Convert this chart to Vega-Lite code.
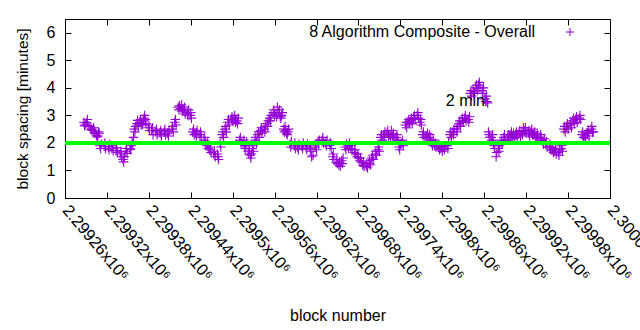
{
"$schema": "https://vega.github.io/schema/vega-lite/v6.json",
"autosize": {"type": "none"},
"padding": {"left": 65, "top": 19, "right": 30, "bottom": 132},
"width": 545,
"height": 179,
"datasets": {
"blocks": [
{"block":2299287,"spacing":2.75},{"block":2299289,"spacing":2.68},{"block":2299291,"spacing":2.73},{"block":2299293,"spacing":2.62},
{"block":2299296,"spacing":2.6},{"block":2299298,"spacing":2.5},{"block":2299300,"spacing":2.45},{"block":2299302,"spacing":2.38},
{"block":2299304,"spacing":2.35},{"block":2299305,"spacing":2.28},{"block":2299307,"spacing":2.25},{"block":2299308,"spacing":2.4},
{"block":2299310,"spacing":1.9},{"block":2299312,"spacing":1.95},{"block":2299316,"spacing":1.88},{"block":2299318,"spacing":1.8},
{"block":2299322,"spacing":1.85},{"block":2299324,"spacing":1.95},{"block":2299327,"spacing":1.8},{"block":2299329,"spacing":1.72},
{"block":2299333,"spacing":1.72},{"block":2299335,"spacing":1.65},{"block":2299339,"spacing":1.6},{"block":2299341,"spacing":1.5},
{"block":2299343,"spacing":1.4},{"block":2299344,"spacing":1.31},{"block":2299347,"spacing":1.7},{"block":2299349,"spacing":1.62},
{"block":2299353,"spacing":1.8},{"block":2299354,"spacing":1.75},{"block":2299356,"spacing":2.05},{"block":2299357,"spacing":1.95},
{"block":2299359,"spacing":2.5},{"block":2299360,"spacing":2.4},{"block":2299363,"spacing":2.7},{"block":2299365,"spacing":2.6},
{"block":2299367,"spacing":2.75},{"block":2299369,"spacing":2.65},{"block":2299372,"spacing":2.8},{"block":2299373,"spacing":2.9},
{"block":2299374,"spacing":3.0},{"block":2299376,"spacing":2.7},{"block":2299379,"spacing":2.55},{"block":2299381,"spacing":2.45},
{"block":2299384,"spacing":2.45},{"block":2299386,"spacing":2.3},{"block":2299390,"spacing":2.4},{"block":2299392,"spacing":2.3},
{"block":2299396,"spacing":2.35},{"block":2299398,"spacing":2.25},{"block":2299402,"spacing":2.4},{"block":2299404,"spacing":2.3},
{"block":2299407,"spacing":2.35},{"block":2299409,"spacing":2.45},{"block":2299413,"spacing":2.5},{"block":2299415,"spacing":2.4},
{"block":2299417,"spacing":2.75},{"block":2299419,"spacing":2.65},{"block":2299422,"spacing":3.3},{"block":2299423,"spacing":3.2},
{"block":2299426,"spacing":3.25},{"block":2299428,"spacing":3.15},{"block":2299430,"spacing":3.2},{"block":2299432,"spacing":3.05},
{"block":2299435,"spacing":3.1},{"block":2299437,"spacing":3.2},{"block":2299439,"spacing":3.0},{"block":2299441,"spacing":2.9},
{"block":2299443,"spacing":2.4},{"block":2299445,"spacing":2.3},{"block":2299447,"spacing":2.35},{"block":2299449,"spacing":2.45},
{"block":2299453,"spacing":2.3},{"block":2299455,"spacing":2.2},{"block":2299459,"spacing":2.1},{"block":2299461,"spacing":2.0},
{"block":2299463,"spacing":1.9},{"block":2299465,"spacing":1.8},{"block":2299467,"spacing":1.75},{"block":2299469,"spacing":1.65},
{"block":2299473,"spacing":1.6},{"block":2299475,"spacing":1.5},{"block":2299479,"spacing":1.5},{"block":2299480,"spacing":1.4},
{"block":2299482,"spacing":2.0},{"block":2299483,"spacing":1.85},{"block":2299485,"spacing":2.3},{"block":2299487,"spacing":2.2},
{"block":2299489,"spacing":2.5},{"block":2299491,"spacing":2.4},{"block":2299493,"spacing":2.75},{"block":2299495,"spacing":2.65},
{"block":2299498,"spacing":2.85},{"block":2299500,"spacing":2.8},{"block":2299502,"spacing":2.9},{"block":2299504,"spacing":2.75},
{"block":2299506,"spacing":2.8},{"block":2299508,"spacing":2.9},{"block":2299510,"spacing":2.1},{"block":2299512,"spacing":2.0},
{"block":2299515,"spacing":2.0},{"block":2299517,"spacing":1.9},{"block":2299519,"spacing":1.9},{"block":2299520,"spacing":2.05},
{"block":2299522,"spacing":1.7},{"block":2299523,"spacing":1.6},{"block":2299525,"spacing":1.55},{"block":2299526,"spacing":1.45},
{"block":2299528,"spacing":1.8},{"block":2299530,"spacing":1.7},{"block":2299532,"spacing":2.1},{"block":2299534,"spacing":2.0},
{"block":2299536,"spacing":2.3},{"block":2299538,"spacing":2.2},{"block":2299540,"spacing":2.45},{"block":2299542,"spacing":2.35},
{"block":2299545,"spacing":2.5},{"block":2299547,"spacing":2.6},{"block":2299549,"spacing":2.7},{"block":2299551,"spacing":2.8},
{"block":2299553,"spacing":2.9},{"block":2299555,"spacing":3.0},{"block":2299558,"spacing":3.1},{"block":2299560,"spacing":3.0},
{"block":2299562,"spacing":3.05},{"block":2299564,"spacing":3.3},{"block":2299566,"spacing":3.1},{"block":2299568,"spacing":2.95},
{"block":2299570,"spacing":3.0},{"block":2299571,"spacing":3.1},{"block":2299573,"spacing":2.5},{"block":2299574,"spacing":2.4},
{"block":2299576,"spacing":2.45},{"block":2299577,"spacing":2.35},{"block":2299579,"spacing":2.4},{"block":2299580,"spacing":2.5},
{"block":2299582,"spacing":1.95},{"block":2299584,"spacing":2.05},{"block":2299588,"spacing":1.9},{"block":2299590,"spacing":1.8},
{"block":2299593,"spacing":1.85},{"block":2299595,"spacing":1.95},{"block":2299599,"spacing":1.9},{"block":2299601,"spacing":2.0},
{"block":2299605,"spacing":1.85},{"block":2299607,"spacing":1.95},{"block":2299611,"spacing":1.8},{"block":2299612,"spacing":1.7},
{"block":2299613,"spacing":1.5},{"block":2299615,"spacing":1.55},{"block":2299618,"spacing":1.85},{"block":2299620,"spacing":1.75},
{"block":2299622,"spacing":2.05},{"block":2299624,"spacing":2.1},{"block":2299628,"spacing":2.1},{"block":2299630,"spacing":2.0},
{"block":2299633,"spacing":2.0},{"block":2299635,"spacing":2.1},{"block":2299639,"spacing":1.9},{"block":2299641,"spacing":1.8},
{"block":2299643,"spacing":1.5},{"block":2299645,"spacing":1.4},{"block":2299648,"spacing":1.3},{"block":2299650,"spacing":1.25},
{"block":2299652,"spacing":1.2},{"block":2299654,"spacing":1.15},{"block":2299656,"spacing":1.35},{"block":2299658,"spacing":1.45},
{"block":2299661,"spacing":1.85},{"block":2299663,"spacing":1.95},{"block":2299665,"spacing":1.9},{"block":2299667,"spacing":2.0},
{"block":2299669,"spacing":1.8},{"block":2299671,"spacing":1.75},{"block":2299674,"spacing":1.65},{"block":2299676,"spacing":1.6},
{"block":2299678,"spacing":1.5},{"block":2299680,"spacing":1.45},{"block":2299682,"spacing":1.35},{"block":2299684,"spacing":1.3},
{"block":2299686,"spacing":1.2},{"block":2299688,"spacing":1.15},{"block":2299691,"spacing":1.15},{"block":2299693,"spacing":1.1},
{"block":2299695,"spacing":1.25},{"block":2299697,"spacing":1.2},{"block":2299699,"spacing":1.45},{"block":2299701,"spacing":1.4},
{"block":2299704,"spacing":1.6},{"block":2299706,"spacing":1.55},{"block":2299708,"spacing":1.75},{"block":2299710,"spacing":1.7},
{"block":2299712,"spacing":2.2},{"block":2299714,"spacing":2.1},{"block":2299716,"spacing":2.3},{"block":2299718,"spacing":2.4},
{"block":2299721,"spacing":2.35},{"block":2299723,"spacing":2.25},{"block":2299725,"spacing":2.3},{"block":2299727,"spacing":2.45},
{"block":2299729,"spacing":2.25},{"block":2299731,"spacing":2.15},{"block":2299734,"spacing":2.2},{"block":2299736,"spacing":2.1},
{"block":2299738,"spacing":1.85},{"block":2299740,"spacing":1.95},{"block":2299742,"spacing":2.0},{"block":2299744,"spacing":1.9},
{"block":2299747,"spacing":2.65},{"block":2299749,"spacing":2.55},{"block":2299751,"spacing":2.75},{"block":2299753,"spacing":2.7},
{"block":2299755,"spacing":2.8},{"block":2299757,"spacing":2.7},{"block":2299759,"spacing":2.9},{"block":2299761,"spacing":2.85},
{"block":2299764,"spacing":3.0},{"block":2299766,"spacing":2.9},{"block":2299768,"spacing":2.75},{"block":2299770,"spacing":2.65},
{"block":2299772,"spacing":2.3},{"block":2299774,"spacing":2.2},{"block":2299777,"spacing":2.25},{"block":2299779,"spacing":2.35},
{"block":2299781,"spacing":2.2},{"block":2299783,"spacing":2.1},{"block":2299785,"spacing":2.0},{"block":2299787,"spacing":2.1},
{"block":2299789,"spacing":1.9},{"block":2299791,"spacing":1.85},{"block":2299794,"spacing":1.85},{"block":2299796,"spacing":1.75},
{"block":2299798,"spacing":1.8},{"block":2299800,"spacing":1.7},{"block":2299802,"spacing":1.85},{"block":2299804,"spacing":1.9},
{"block":2299807,"spacing":1.9},{"block":2299809,"spacing":2.05},{"block":2299811,"spacing":2.3},{"block":2299813,"spacing":2.2},
{"block":2299815,"spacing":2.4},{"block":2299817,"spacing":2.5},{"block":2299820,"spacing":2.5},{"block":2299822,"spacing":2.6},
{"block":2299824,"spacing":2.7},{"block":2299826,"spacing":2.6},{"block":2299828,"spacing":2.8},{"block":2299830,"spacing":2.75},
{"block":2299832,"spacing":2.9},{"block":2299834,"spacing":2.8},{"block":2299837,"spacing":2.85},{"block":2299839,"spacing":2.95},
{"block":2299840,"spacing":3.8},{"block":2299842,"spacing":3.7},{"block":2299844,"spacing":3.9},{"block":2299846,"spacing":3.85},
{"block":2299848,"spacing":4.0},{"block":2299850,"spacing":3.9},{"block":2299852,"spacing":4.1},{"block":2299854,"spacing":4.0},
{"block":2299857,"spacing":3.9},{"block":2299859,"spacing":4.0},{"block":2299861,"spacing":3.6},{"block":2299863,"spacing":3.7},
{"block":2299864,"spacing":3.5},{"block":2299865,"spacing":3.45},{"block":2299867,"spacing":2.3},{"block":2299868,"spacing":2.2},
{"block":2299870,"spacing":2.2},{"block":2299872,"spacing":2.3},{"block":2299874,"spacing":1.9},{"block":2299875,"spacing":1.8},
{"block":2299877,"spacing":1.5},{"block":2299878,"spacing":1.65},{"block":2299880,"spacing":1.8},{"block":2299882,"spacing":1.9},
{"block":2299884,"spacing":2.0},{"block":2299886,"spacing":1.95},{"block":2299888,"spacing":2.2},{"block":2299890,"spacing":2.1},
{"block":2299893,"spacing":2.2},{"block":2299895,"spacing":2.3},{"block":2299897,"spacing":2.3},{"block":2299899,"spacing":2.4},
{"block":2299901,"spacing":2.25},{"block":2299903,"spacing":2.15},{"block":2299905,"spacing":2.3},{"block":2299907,"spacing":2.2},
{"block":2299910,"spacing":2.35},{"block":2299912,"spacing":2.25},{"block":2299914,"spacing":2.4},{"block":2299916,"spacing":2.55},
{"block":2299918,"spacing":2.45},{"block":2299920,"spacing":2.35},{"block":2299923,"spacing":2.35},{"block":2299925,"spacing":2.25},
{"block":2299927,"spacing":2.4},{"block":2299929,"spacing":2.3},{"block":2299931,"spacing":2.3},{"block":2299933,"spacing":2.2},
{"block":2299935,"spacing":2.25},{"block":2299937,"spacing":2.15},{"block":2299940,"spacing":2.2},{"block":2299942,"spacing":2.1},
{"block":2299944,"spacing":2.05},{"block":2299946,"spacing":2.15},{"block":2299948,"spacing":1.95},{"block":2299950,"spacing":1.85},
{"block":2299953,"spacing":1.85},{"block":2299955,"spacing":1.75},{"block":2299957,"spacing":1.75},{"block":2299959,"spacing":1.65},
{"block":2299961,"spacing":1.7},{"block":2299963,"spacing":1.6},{"block":2299966,"spacing":1.65},{"block":2299968,"spacing":1.75},
{"block":2299970,"spacing":1.8},{"block":2299972,"spacing":1.7},{"block":2299974,"spacing":2.5},{"block":2299976,"spacing":2.4},
{"block":2299978,"spacing":2.6},{"block":2299980,"spacing":2.5},{"block":2299983,"spacing":2.65},{"block":2299985,"spacing":2.55},
{"block":2299987,"spacing":2.8},{"block":2299989,"spacing":2.7},{"block":2299991,"spacing":2.85},{"block":2299993,"spacing":2.75},
{"block":2299996,"spacing":2.9},{"block":2299998,"spacing":2.85},{"block":2300000,"spacing":2.3},{"block":2300002,"spacing":2.2},
{"block":2300004,"spacing":2.25},{"block":2300006,"spacing":2.35},{"block":2300008,"spacing":2.35},{"block":2300010,"spacing":2.25},
{"block":2300013,"spacing":2.5},{"block":2300015,"spacing":2.4},{"block":2300016,"spacing":2.4},
{"block":2299288,"spacing":2.62},{"block":2299292,"spacing":2.85},{"block":2299297,"spacing":2.48},{"block":2299301,"spacing":2.55},
{"block":2299306,"spacing":2.22},{"block":2299309,"spacing":2.35},{"block":2299311,"spacing":1.8},{"block":2299317,"spacing":2.0},
{"block":2299323,"spacing":1.75},{"block":2299328,"spacing":1.9},{"block":2299334,"spacing":1.82},{"block":2299340,"spacing":1.7},
{"block":2299345,"spacing":1.5},{"block":2299348,"spacing":1.8},{"block":2299355,"spacing":1.9},{"block":2299358,"spacing":2.2},
{"block":2299361,"spacing":2.6},{"block":2299364,"spacing":2.82},{"block":2299368,"spacing":2.85},{"block":2299371,"spacing":2.68},
{"block":2299375,"spacing":2.85},{"block":2299380,"spacing":2.65},{"block":2299385,"spacing":2.55},{"block":2299391,"spacing":2.5},
{"block":2299397,"spacing":2.45},{"block":2299403,"spacing":2.5},{"block":2299408,"spacing":2.25},{"block":2299414,"spacing":2.6},
{"block":2299418,"spacing":2.85},{"block":2299424,"spacing":3.35},{"block":2299427,"spacing":3.38},{"block":2299431,"spacing":3.3},
{"block":2299436,"spacing":3.0},{"block":2299440,"spacing":3.1},{"block":2299444,"spacing":2.5},{"block":2299448,"spacing":2.25},
{"block":2299454,"spacing":2.4},{"block":2299460,"spacing":2.2},{"block":2299464,"spacing":2.0},{"block":2299468,"spacing":1.85},
{"block":2299474,"spacing":1.7},{"block":2299478,"spacing":1.6},{"block":2299486,"spacing":2.4},{"block":2299490,"spacing":2.6},
{"block":2299494,"spacing":2.85},{"block":2299499,"spacing":2.95},{"block":2299503,"spacing":3.0},{"block":2299507,"spacing":2.7},
{"block":2299511,"spacing":2.2},{"block":2299516,"spacing":2.1},{"block":2299518,"spacing":1.8},{"block":2299524,"spacing":1.8},
{"block":2299527,"spacing":1.6},{"block":2299529,"spacing":1.9},{"block":2299533,"spacing":2.2},{"block":2299537,"spacing":2.4},
{"block":2299541,"spacing":2.55},{"block":2299546,"spacing":2.4},{"block":2299550,"spacing":2.6},{"block":2299554,"spacing":2.8},
{"block":2299559,"spacing":3.2},{"block":2299563,"spacing":2.95},{"block":2299567,"spacing":3.2},{"block":2299569,"spacing":2.9},
{"block":2299575,"spacing":2.6},{"block":2299578,"spacing":2.3},{"block":2299583,"spacing":1.85},{"block":2299589,"spacing":2.0},
{"block":2299594,"spacing":1.75},{"block":2299600,"spacing":1.8},{"block":2299606,"spacing":1.75},{"block":2299610,"spacing":1.9},
{"block":2299619,"spacing":1.95},{"block":2299623,"spacing":1.95},{"block":2299629,"spacing":2.2},{"block":2299634,"spacing":1.9},
{"block":2299640,"spacing":2.0},{"block":2299644,"spacing":1.6},{"block":2299649,"spacing":1.4},{"block":2299653,"spacing":1.3},
{"block":2299657,"spacing":1.25},{"block":2299662,"spacing":1.75},{"block":2299666,"spacing":1.8},{"block":2299670,"spacing":1.9},
{"block":2299675,"spacing":1.75},{"block":2299679,"spacing":1.6},{"block":2299683,"spacing":1.45},{"block":2299687,"spacing":1.3},
{"block":2299692,"spacing":1.25},{"block":2299696,"spacing":1.35},{"block":2299700,"spacing":1.55},{"block":2299705,"spacing":1.7},
{"block":2299709,"spacing":1.85},{"block":2299713,"spacing":2.3},{"block":2299717,"spacing":2.2},{"block":2299722,"spacing":2.45},
{"block":2299726,"spacing":2.2},{"block":2299730,"spacing":2.35},{"block":2299735,"spacing":2.3},{"block":2299739,"spacing":1.75},
{"block":2299743,"spacing":2.1},{"block":2299748,"spacing":2.75},{"block":2299752,"spacing":2.85},{"block":2299756,"spacing":2.9},
{"block":2299760,"spacing":3.0},{"block":2299765,"spacing":3.1},{"block":2299769,"spacing":2.85},{"block":2299773,"spacing":2.4},
{"block":2299778,"spacing":2.15},{"block":2299782,"spacing":2.3},{"block":2299786,"spacing":1.9},{"block":2299790,"spacing":2.0},
{"block":2299795,"spacing":1.95},{"block":2299799,"spacing":1.9},{"block":2299803,"spacing":1.75},{"block":2299808,"spacing":1.8},
{"block":2299812,"spacing":2.4},{"block":2299816,"spacing":2.3},{"block":2299821,"spacing":2.4},{"block":2299825,"spacing":2.8},
{"block":2299829,"spacing":2.9},{"block":2299833,"spacing":3.0},{"block":2299838,"spacing":2.75},{"block":2299841,"spacing":3.9},
{"block":2299845,"spacing":3.8},{"block":2299849,"spacing":4.1},{"block":2299853,"spacing":4.2},{"block":2299858,"spacing":3.8},
{"block":2299862,"spacing":3.5},{"block":2299866,"spacing":2.4},{"block":2299871,"spacing":2.1},{"block":2299873,"spacing":2.0},
{"block":2299881,"spacing":1.7},{"block":2299885,"spacing":2.1},{"block":2299889,"spacing":2.3},{"block":2299894,"spacing":2.1},
{"block":2299898,"spacing":2.2},{"block":2299902,"spacing":2.35},{"block":2299906,"spacing":2.4},{"block":2299911,"spacing":2.45},
{"block":2299915,"spacing":2.3},{"block":2299919,"spacing":2.55},{"block":2299924,"spacing":2.45},{"block":2299928,"spacing":2.5},
{"block":2299932,"spacing":2.4},{"block":2299936,"spacing":2.35},{"block":2299941,"spacing":2.3},{"block":2299945,"spacing":1.95},
{"block":2299949,"spacing":2.05},{"block":2299954,"spacing":1.95},{"block":2299958,"spacing":1.85},{"block":2299962,"spacing":1.8},
{"block":2299967,"spacing":1.55},{"block":2299971,"spacing":1.9},{"block":2299975,"spacing":2.6},{"block":2299979,"spacing":2.7},
{"block":2299984,"spacing":2.75},{"block":2299988,"spacing":2.9},{"block":2299992,"spacing":2.95},{"block":2299997,"spacing":3.0},
{"block":2300001,"spacing":2.4},{"block":2300005,"spacing":2.15},{"block":2300009,"spacing":2.45},{"block":2300014,"spacing":2.6}
],
"target": [{"level": 2}],
"notes": [{"block": 2299805, "spacing": 3.53, "note": "2 min"}]
},
"config": {
"font": "Liberation Sans",
"view": {"stroke": "#000000", "strokeWidth": 1},
"axis": {"domain": false, "grid": false, "tickColor": "#000000", "tickSize": -6, "tickWidth": 1, "labelFont": "Liberation Sans", "labelFontSize": 16, "labelColor": "#000000", "titleFont": "Liberation Sans", "titleFontSize": 16, "titleFontWeight": "normal", "titleColor": "#000000"}
},
"layer": [
{
"data": {"name": "blocks"},
"mark": {"type": "point", "shape": "M-1,0L1,0M0,-1L0,1", "size": 90, "filled": false, "strokeWidth": 1.1, "opacity": 1},
"encoding": {
"x": {"field": "block", "type": "quantitative", "scale": {"domain": [2299260, 2300040], "nice": false, "zero": false},
"axis": {"orient": "bottom", "title": "block number", "values": [2299260,2299320,2299380,2299440,2299500,2299560,2299620,2299680,2299740,2299800,2299860,2299920,2299980,2300040],
"labelExpr": "format(datum.value / 1000000, '.5~f') + 'x10⁶'", "labelFontSize": 16.5, "labelAngle": 50, "labelAlign": "left", "labelBaseline": "middle", "labelPadding": 15, "labelOverlap": false, "labelBound": false, "labelFlush": false, "titlePadding": 24}},
"y": {"field": "spacing", "type": "quantitative", "scale": {"domain": [0, 6.5], "nice": false, "zero": false},
"axis": {"orient": "left", "title": "block spacing [minutes]", "titleFontSize": 15.5, "values": [0,1,2,3,4,5,6], "labelPadding": 16, "titlePadding": 16, "labelFlush": false}},
"color": {"datum": "8 Algorithm Composite - Overall", "type": "nominal", "scale": {"range": ["#9400d3"]},
"legend": {"title": null, "orient": "none", "legendX": 497, "legendY": 5, "padding": 0, "symbolType": "M-1,0L1,0M0,-1L0,1", "symbolSize": 64, "symbolStrokeWidth": 1, "symbolStrokeColor": "#9400d3", "symbolFillColor": "transparent", "labelAlign": "right", "labelOffset": -43, "labelFontSize": 16, "labelColor": "#000000", "labelFont": "Liberation Sans", "labelLimit": 0}}
}
},
{
"data": {"name": "target"},
"mark": {"type": "rule", "color": "#00ff00", "strokeWidth": 4},
"encoding": {"y": {"field": "level", "type": "quantitative", "axis": null}}
},
{
"data": {"name": "notes"},
"mark": {"type": "text", "align": "left", "baseline": "middle", "fontSize": 16, "font": "Liberation Sans", "color": "#000000"},
"encoding": {
"x": {"field": "block", "type": "quantitative", "axis": {"orient": "top", "values": [2299260,2299320,2299380,2299440,2299500,2299560,2299620,2299680,2299740,2299800,2299860,2299920,2299980,2300040], "labels": false, "title": null}},
"y": {"field": "spacing", "type": "quantitative", "axis": {"orient": "right", "values": [0,1,2,3,4,5,6], "labels": false, "title": null}},
"text": {"field": "note"}
}
}
],
"resolve": {"axis": {"x": "independent", "y": "independent"}}
}
